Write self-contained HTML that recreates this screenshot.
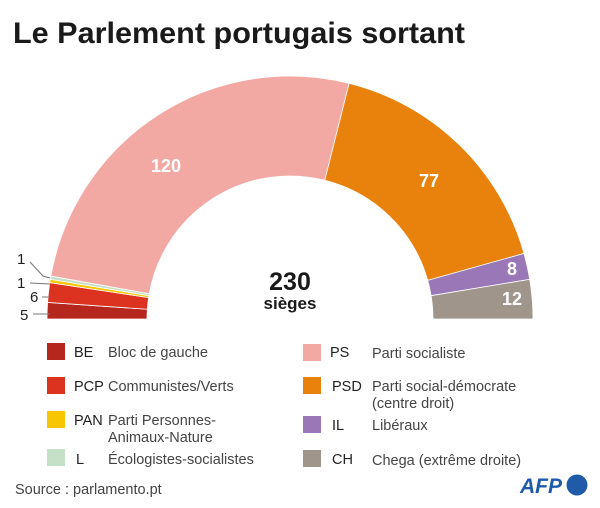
<!DOCTYPE html>
<html><head><meta charset="utf-8"><style>
body{margin:0;background:#fff;width:600px;height:508px;overflow:hidden;font-family:"Liberation Sans",sans-serif}
svg{position:absolute;left:0;top:0}
</style></head><body>
<svg id="s" width="600" height="508" viewBox="0 0 600 508">
<text x="13" y="43" font-size="30" font-weight="bold" fill="#1a1a1a" textLength="452" lengthAdjust="spacingAndGlyphs">Le Parlement portugais sortant</text>
<g id="arcs"></g>
<g font-size="18" font-weight="bold" fill="#fff">
<text x="166" y="172" text-anchor="middle">120</text>
<text x="429" y="187" text-anchor="middle">77</text>
<text x="512" y="275" text-anchor="middle">8</text>
<text x="512" y="305" text-anchor="middle">12</text>
</g>
<text x="290" y="290" text-anchor="middle" font-size="25" font-weight="bold" fill="#1a1a1a">230</text>
<text x="290" y="309" text-anchor="middle" font-size="17" font-weight="bold" fill="#1a1a1a">sièges</text>
<g font-size="15" fill="#222">
<text x="17" y="264">1</text><text x="17" y="288">1</text><text x="30" y="302">6</text><text x="20" y="320">5</text>
</g>
<g stroke="#777" stroke-width="1" fill="none">
<path d="M30 262 L43 276 L50 278"/><path d="M30 283 L50 284"/><path d="M42 297 L50 297"/><path d="M33 314 L50 314"/>
</g>
<g font-size="14.5" fill="#222">
<rect x="47" y="343" width="18" height="17" fill="#b5271d"/><text x="74" y="357">BE</text><text x="108" y="357" fill="#444">Bloc de gauche</text>
<rect x="47" y="377" width="18" height="17" fill="#dc3320"/><text x="74" y="391">PCP</text><text x="108" y="391" fill="#444">Communistes/Verts</text>
<rect x="47" y="411" width="18" height="17" fill="#f7c600"/><text x="74" y="425">PAN</text><text x="108" y="425" fill="#444">Parti Personnes-</text><text x="108" y="442" fill="#444">Animaux-Nature</text>
<rect x="47" y="449" width="18" height="17" fill="#c6e0c8"/><text x="76" y="464">L</text><text x="108" y="464" fill="#444">Écologistes-socialistes</text>
<text x="15" y="494" fill="#444">Source : parlamento.pt</text>
<rect x="303" y="344" width="18" height="17" fill="#f2a9a4"/><text x="330" y="357">PS</text><text x="372" y="358" fill="#444">Parti socialiste</text>
<rect x="303" y="377" width="18" height="17" fill="#e8820c"/><text x="332" y="391">PSD</text><text x="372" y="391" fill="#444">Parti social-démocrate</text><text x="372" y="408" fill="#444">(centre droit)</text>
<rect x="303" y="416" width="18" height="17" fill="#9a78b8"/><text x="332" y="430">IL</text><text x="372" y="430" fill="#444">Libéraux</text>
<rect x="303" y="450" width="18" height="17" fill="#a0958a"/><text x="332" y="464">CH</text><text x="372" y="465" fill="#444">Chega (extrême droite)</text>
</g>
<text x="520" y="493" font-size="21" font-weight="bold" font-style="italic" fill="#1f5ba8">AFP</text>
<circle cx="577" cy="485" r="10.5" fill="#1f5ba8"/>
</svg>
<script>
var cx=290,cy=319,R=243,r=143;
var d=[[5,"#b5271d"],[6,"#dc3320"],[1,"#f7c600"],[1,"#c6e0c8"],[120,"#f2a9a4"],[77,"#e8820c"],[8,"#9a78b8"],[12,"#a0958a"]];
var c=0,h="";
function p(a,rad){var t=Math.PI*(1-a/230);return (cx+rad*Math.cos(t)).toFixed(2)+" "+(cy-rad*Math.sin(t)).toFixed(2);}
d.forEach(function(e){var a0=c,a1=c+e[0];c=a1;
h+='<path d="M'+p(a0,r)+' L'+p(a0,R)+' A'+R+' '+R+' 0 0 1 '+p(a1,R)+' L'+p(a1,r)+' A'+r+' '+r+' 0 0 0 '+p(a0,r)+' Z" fill="'+e[1]+'" stroke="#fff" stroke-width="0.8"/>';});
document.getElementById("arcs").innerHTML=h;
</script>
</body></html>
